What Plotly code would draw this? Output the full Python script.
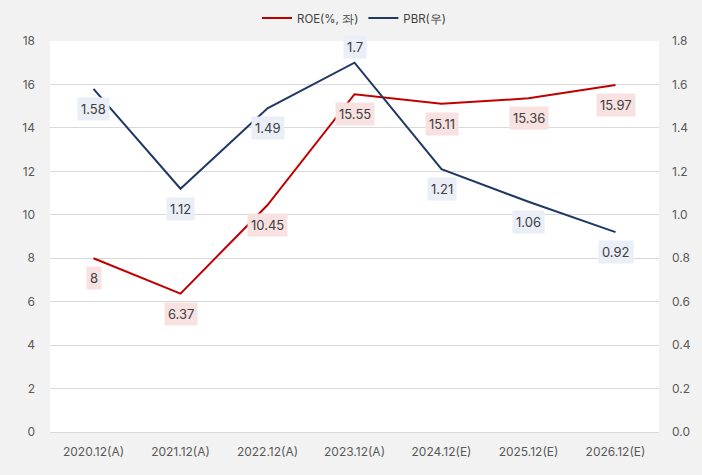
import plotly.graph_objects as go

# data
periods = ['2020.12(A)', '2021.12(A)', '2022.12(A)', '2023.12(A)', '2024.12(E)', '2025.12(E)', '2026.12(E)']
roe = [8, 6.37, 10.45, 15.55, 15.11, 15.36, 15.97]
pbr = [1.58, 1.12, 1.49, 1.7, 1.21, 1.06, 0.92]

RED = '#c00000'
NAVY = '#1f3864'
FONT = 'Inter, Roboto, sans-serif'

fig = go.Figure()
fig.add_trace(go.Scatter(x=periods, y=roe, name='ROE(%, 좌)', mode='lines',
                         line=dict(color=RED, width=2)))
fig.add_trace(go.Scatter(x=periods, y=pbr, name='PBR(우)', mode='lines',
                         line=dict(color=NAVY, width=2), yaxis='y2'))

# value labels
for p, v in zip(periods, roe):
    fig.add_annotation(x=p, y=v, yref='y', text=str(v), showarrow=False,
                       yshift=-20, bgcolor='#f8e1e1', borderpad=3,
                       font=dict(size=13, color='#404040', family=FONT))
top = max(pbr)
for p, v in zip(periods, pbr):
    fig.add_annotation(x=p, y=v, yref='y2', text=str(v), showarrow=False,
                       yshift=16 if v == top else -20, bgcolor='#e9eef7', borderpad=3,
                       font=dict(size=13, color='#404040', family=FONT))

fig.update_layout(
    width=702, height=475,
    margin=dict(l=50, r=43, t=41, b=43, autoexpand=False),
    paper_bgcolor='#f2f2f2', plot_bgcolor='white',
    font=dict(family=FONT, size=12, color='#595959'),
    legend=dict(orientation='h', x=0.5, xanchor='center', y=0.962, yanchor='middle',
                yref='container', font=dict(size=11.5, color='#404040'),
                bgcolor='rgba(0,0,0,0)'),
    xaxis=dict(range=[-0.5, 6.5], showgrid=False, ticks='', showline=True,
               linecolor='#d9d9d9', automargin=False, ticklabelstandoff=9),
    yaxis=dict(range=[0, 18], dtick=2, gridcolor='#d9d9d9', zeroline=False,
               ticks='', automargin=False, ticklabelstandoff=14),
    yaxis2=dict(range=[0, 1.8], dtick=0.2, tickformat='.1f', overlaying='y', side='right',
                showgrid=False, zeroline=False, ticks='', automargin=False,
                ticklabelstandoff=12),
)

# drop the default page margin so the figure fills the window
fig.write_html("out.html", config={'displayModeBar': False},
               post_script="document.body.style.margin='0';")
